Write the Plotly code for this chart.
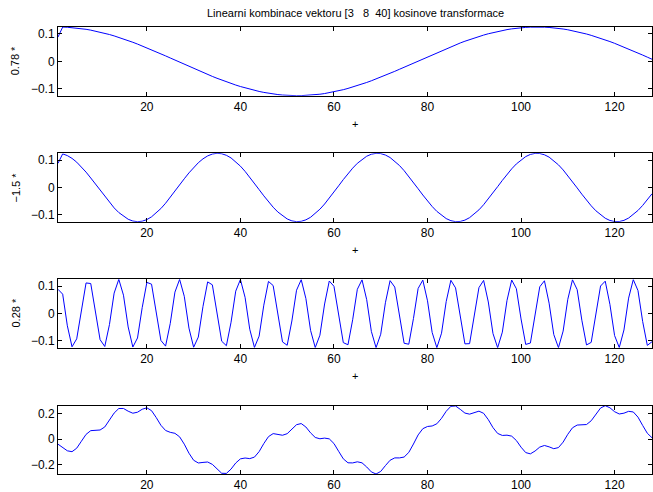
import plotly.graph_objects as go

# index axis (1..128)
n = list(range(1, 129))

# basis vector 3 (scaled plot label 0.78 *)
vec3 = [0.0884, 0.1248, 0.1241, 0.1229, 0.1213, 0.1192, 0.1166, 0.1136, 0.1102, 0.1064,
        0.1022, 0.0976, 0.0926, 0.0873, 0.0817, 0.0757, 0.0694, 0.0629, 0.0562, 0.0492,
        0.0421, 0.0348, 0.0274, 0.0199, 0.0123, 0.0046, -0.0031, -0.0107, -0.0183, -0.0259,
        -0.0333, -0.0407, -0.0478, -0.0548, -0.0616, -0.0682, -0.0745, -0.0805, -0.0862, -0.0916,
        -0.0966, -0.1013, -0.1056, -0.1095, -0.1130, -0.1161, -0.1187, -0.1209, -0.1226, -0.1239,
        -0.1247, -0.1250, -0.1248, -0.1242, -0.1232, -0.1216, -0.1196, -0.1172, -0.1143, -0.1110,
        -0.1072, -0.1031, -0.0985, -0.0936, -0.0884, -0.0828, -0.0769, -0.0707, -0.0643, -0.0576,
        -0.0506, -0.0436, -0.0363, -0.0289, -0.0214, -0.0138, -0.0061, 0.0015, 0.0092, 0.0168,
        0.0244, 0.0319, 0.0392, 0.0464, 0.0534, 0.0603, 0.0669, 0.0732, 0.0793, 0.0851,
        0.0905, 0.0956, 0.1004, 0.1048, 0.1088, 0.1123, 0.1155, 0.1182, 0.1205, 0.1223,
        0.1236, 0.1245, 0.1250, 0.1249, 0.1244, 0.1234, 0.1220, 0.1201, 0.1177, 0.1149,
        0.1117, 0.1080, 0.1039, 0.0995, 0.0946, 0.0895, 0.0839, 0.0781, 0.0720, 0.0656,
        0.0589, 0.0520, 0.0450, 0.0378, 0.0304, 0.0229, 0.0153, 0.0077]

# basis vector 8 (plot label -1.5 *)
vec8 = [0.0884, 0.1229, 0.1166, 0.1064, 0.0926, 0.0757, 0.0562, 0.0348, 0.0123, -0.0107,
        -0.0333, -0.0548, -0.0745, -0.0916, -0.1056, -0.1161, -0.1226, -0.1250, -0.1232, -0.1172,
        -0.1072, -0.0936, -0.0769, -0.0576, -0.0363, -0.0138, 0.0092, 0.0319, 0.0534, 0.0732,
        0.0905, 0.1048, 0.1155, 0.1223, 0.1250, 0.1234, 0.1177, 0.1080, 0.0946, 0.0781,
        0.0589, 0.0378, 0.0153, -0.0077, -0.0304, -0.0520, -0.0720, -0.0895, -0.1039, -0.1149,
        -0.1220, -0.1249, -0.1236, -0.1182, -0.1088, -0.0956, -0.0793, -0.0603, -0.0392, -0.0168,
        0.0061, 0.0289, 0.0506, 0.0707, 0.0884, 0.1031, 0.1143, 0.1216, 0.1248, 0.1239,
        0.1187, 0.1095, 0.0966, 0.0805, 0.0616, 0.0407, 0.0183, -0.0046, -0.0274, -0.0492,
        -0.0694, -0.0873, -0.1022, -0.1136, -0.1213, -0.1248, -0.1241, -0.1192, -0.1102, -0.0976,
        -0.0817, -0.0629, -0.0421, -0.0199, 0.0031, 0.0259, 0.0478, 0.0682, 0.0862, 0.1013,
        0.1130, 0.1209, 0.1247, 0.1242, 0.1196, 0.1110, 0.0985, 0.0828, 0.0643, 0.0436,
        0.0214, -0.0015, -0.0244, -0.0464, -0.0669, -0.0851, -0.1004, -0.1123, -0.1205, -0.1245,
        -0.1244, -0.1201, -0.1117, -0.0995, -0.0839, -0.0656, -0.0450, -0.0229]

# basis vector 40 (plot label 0.28 *)
vec40 = [0.0884, 0.0707, -0.0450, -0.1216, -0.0926, 0.0168, 0.1117, 0.1095, 0.0123, -0.0956,
         -0.1205, -0.0407, 0.0745, 0.1249, 0.0669, -0.0492, -0.1226, -0.0895, 0.0214, 0.1136,
         0.1072, 0.0077, -0.0985, -0.1192, -0.0363, 0.0781, 0.1247, 0.0629, -0.0534, -0.1234,
         -0.0862, 0.0259, 0.1155, 0.1048, 0.0031, -0.1013, -0.1177, -0.0319, 0.0817, 0.1242,
         0.0589, -0.0576, -0.1241, -0.0828, 0.0304, 0.1172, 0.1022, -0.0015, -0.1039, -0.1161,
         -0.0274, 0.0851, 0.1236, 0.0548, -0.0616, -0.1245, -0.0793, 0.0348, 0.1187, 0.0995,
         -0.0061, -0.1064, -0.1143, -0.0229, 0.0884, 0.1229, 0.0506, -0.0656, -0.1248, -0.0757,
         0.0392, 0.1201, 0.0966, -0.0107, -0.1088, -0.1123, -0.0183, 0.0916, 0.1220, 0.0464,
         -0.0694, -0.1250, -0.0720, 0.0436, 0.1213, 0.0936, -0.0153, -0.1110, -0.1102, -0.0138,
         0.0946, 0.1209, 0.0421, -0.0732, -0.1250, -0.0682, 0.0478, 0.1223, 0.0905, -0.0199,
         -0.1130, -0.1080, -0.0092, 0.0976, 0.1196, 0.0378, -0.0769, -0.1248, -0.0643, 0.0520,
         0.1232, 0.0873, -0.0244, -0.1149, -0.1056, -0.0046, 0.1004, 0.1182, 0.0333, -0.0805,
         -0.1244, -0.0603, 0.0562, 0.1239, 0.0839, -0.0289, -0.1166, -0.1031]

# resulting combination (bottom panel)
combo = [-0.0389, -0.0673, -0.0907, -0.0977, -0.0702, -0.0159, 0.0379, 0.0671, 0.0709, 0.0723,
         0.0960, 0.1469, 0.2049, 0.2405, 0.2408, 0.2194, 0.2037, 0.2115, 0.2346, 0.2460,
         0.2236, 0.1697, 0.1092, 0.0685, 0.0539, 0.0462, 0.0187, -0.0386, -0.1094, -0.1646,
         -0.1859, -0.1816, -0.1783, -0.1969, -0.2346, -0.2667, -0.2677, -0.2337, -0.1862, -0.1538,
         -0.1472, -0.1518, -0.1401, -0.0970, -0.0340, 0.0202, 0.0440, 0.0396, 0.0312, 0.0433,
         0.0780, 0.1137, 0.1227, 0.0957, 0.0499, 0.0137, 0.0035, 0.0088, 0.0028, -0.0335,
         -0.0945, -0.1536, -0.1847, -0.1855, -0.1768, -0.1849, -0.2173, -0.2559, -0.2723, -0.2520,
         -0.2066, -0.1647, -0.1462, -0.1463, -0.1396, -0.1033, -0.0374, 0.0337, 0.0825, 0.0999,
         0.1037, 0.1209, 0.1637, 0.2188, 0.2577, 0.2604, 0.2341, 0.2048, 0.1963, 0.2089,
         0.2197, 0.2029, 0.1533, 0.0911, 0.0452, 0.0296, 0.0318, 0.0241, -0.0100, -0.0622,
         -0.1047, -0.1145, -0.0922, -0.0616, -0.0489, -0.0596, -0.0741, -0.0654, -0.0227, 0.0388,
         0.0895, 0.1109, 0.1108, 0.1150, 0.1446, 0.1962, 0.2441, 0.2625, 0.2463, 0.2155,
         0.1977, 0.2039, 0.2184, 0.2135, 0.1731, 0.1082, 0.0468, 0.0115]

ylabels = ["0.78 *", "\u22121.5 *", "0.28 *"]
title_text = "Linearni kombinace vektoru [3\u00a0\u00a0\u00a08\u00a0\u00a040] kosinove transformace"
xticks = [20, 40, 60, 80, 100, 120]
yticks_basis = [-0.1, 0, 0.1]
yticks_combo = [-0.2, 0, 0.2]

W, H = 653, 492
FONT = "Liberation Sans, Arial, Helvetica, sans-serif"
x0, x1 = 58, 652
panels = [(27, 95.7), (153.3, 221.7), (279.3, 347.7), (405.7, 474)]

fig = go.Figure()
series = [vec3, vec8, vec40, combo]
for i, ys in enumerate(series):
    sfx = "" if i == 0 else str(i + 1)
    fig.add_trace(go.Scatter(x=n, y=ys, mode="lines",
                             line=dict(color="#0000ff", width=1),
                             xaxis="x" + sfx, yaxis="y" + sfx,
                             showlegend=False, hoverinfo="skip"))

layout = dict(width=W, height=H, margin=dict(l=0, r=0, t=0, b=0),
              paper_bgcolor="white", plot_bgcolor="white",
              font=dict(family=FONT, size=11, color="black"),
              annotations=[])
for i, (top, bot) in enumerate(panels):
    sfx = "" if i == 0 else str(i + 1)
    dom_y = [1 - bot / H, 1 - top / H]
    layout["xaxis" + sfx] = dict(domain=[x0 / W, x1 / W], range=[1, 128],
                                 anchor="y" + sfx, tickvals=xticks,
                                 ticks="inside", ticklen=4, tickcolor="black",
                                 showline=True, linecolor="black", linewidth=1,
                                 mirror="ticks", showgrid=False, zeroline=False,
                                 tickfont=dict(size=12))
    if i < 3:
        yr, yt = [-0.125, 0.125], yticks_basis
    else:
        yr, yt = [-0.2723, 0.2625], yticks_combo
    layout["yaxis" + sfx] = dict(domain=dom_y, range=yr, anchor="x" + sfx,
                                 tickvals=yt, ticks="inside", ticklen=4,
                                 tickcolor="black", showline=True,
                                 linecolor="black", linewidth=1, mirror="ticks",
                                 showgrid=False, zeroline=False,
                                 tickfont=dict(size=12))
    if i < 3:
        layout["annotations"].append(dict(
            text=ylabels[i], textangle=-90, xref="paper", yref="paper",
            x=15 / W, y=1 - (top + bot) / 2 / H, xanchor="center", yanchor="middle",
            showarrow=False, font=dict(size=11)))
        layout["annotations"].append(dict(
            text="+", xref="paper", yref="paper",
            x=(x0 + x1) / 2 / W, y=1 - (bot + 28.5) / H,
            xanchor="center", yanchor="middle", showarrow=False,
            font=dict(size=11)))

layout["annotations"].append(dict(
    text=title_text, xref="paper", yref="paper",
    x=(x0 + x1) / 2 / W, y=1 - 13 / H, xanchor="center", yanchor="middle",
    showarrow=False, font=dict(size=11)))

fig.update_layout(**layout)
fig.write_html("out.html",
               config={"displayModeBar": False, "staticPlot": True},
               post_script="document.body.style.margin='0';document.body.style.overflow='hidden';")
